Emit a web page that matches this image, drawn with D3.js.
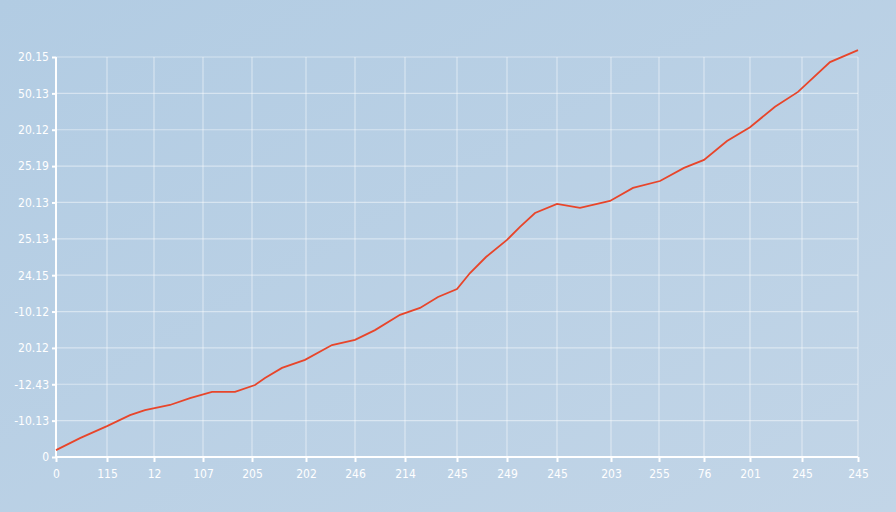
<!DOCTYPE html><html><head><meta charset="utf-8">
<script src="https://cdn.jsdelivr.net/npm/d3@7"></script>
<style>body{margin:0;overflow:hidden}</style></head><body>
<svg id="c" width="896" height="512"></svg>
<script>
const yTickLabels=["0","-10.13","-12.43","20.12","-10.12","24.15","25.13","20.13","25.19","20.12","50.13","20.15"];
const xTickLabels=["0","115","12","107","205","202","246","214","245","249","245","203","255","76","201","245","245"];
const xTickPos=[0,51,98,147,196,250,299,349,401,451,501,555,603,648,694,746,802];
const lineX=[0,24,51,74,89,114,134,156,179,199,209,226,249,276,299,319,344,364,382,401,414,430,451,464,479,501,524,554,577,604,628,648,671,694,719,742,774,802];
const lineY=[0.19,0.52,0.85,1.15,1.29,1.43,1.62,1.79,1.79,1.98,2.17,2.45,2.67,3.08,3.22,3.49,3.91,4.1,4.4,4.62,5.06,5.5,5.97,6.33,6.71,6.96,6.85,7.04,7.4,7.59,7.95,8.17,8.69,9.07,9.63,10.04,10.86,11.19];
const svg=d3.select("#c");
const defs=svg.append("defs");
const g=defs.append("linearGradient").attr("id","bg").attr("x1",0).attr("y1",0).attr("x2",1).attr("y2",1);
g.append("stop").attr("offset","0%").attr("stop-color","#b2cce3");
g.append("stop").attr("offset","100%").attr("stop-color","#c2d5e7");
svg.append("rect").attr("width",896).attr("height",512).attr("fill","url(#bg)");
const L=56,R=858,T=57,B=457;
const x=d3.scaleLinear().domain([0,802]).range([L,R]);
const y=d3.scaleLinear().domain([0,11]).range([B,T]);
const yt=d3.range(12);
svg.append("g").selectAll("line").data(yt.slice(1)).join("line")
 .attr("x1",L).attr("x2",R).attr("y1",d=>y(d)).attr("y2",d=>y(d))
 .attr("stroke","#fff").attr("stroke-opacity",0.45).attr("stroke-width",1.2);
svg.append("g").selectAll("line").data(xTickPos.slice(1)).join("line")
 .attr("x1",d=>x(d)).attr("x2",d=>x(d)).attr("y1",T).attr("y2",B)
 .attr("stroke","#fff").attr("stroke-opacity",0.45).attr("stroke-width",1.2);
const ya=svg.append("g").attr("transform",`translate(${L},0)`)
 .call(d3.axisLeft(y).tickValues(yt).tickFormat(d=>yTickLabels[d]).tickSize(4));
const xa=svg.append("g").attr("transform",`translate(0,${B})`)
 .call(d3.axisBottom(x).tickValues(xTickPos).tickFormat((d,i)=>xTickLabels[i]).tickSize(5));
[ya,xa].forEach(a=>{a.selectAll("path,line").attr("stroke","#fff").attr("stroke-width",2);
 a.selectAll("text").attr("fill","#fff").attr("font-family","DejaVu Sans Condensed, Liberation Sans Narrow, sans-serif").attr("font-size",12);});
ya.select(".domain").attr("d",`M0,${T}V${B}`);
xa.select(".domain").attr("d",`M${L},0H${R}`);
xa.selectAll("text").attr("dy","1.1em");
svg.append("path").datum(lineX.map((d,i)=>[d,lineY[i]]))
 .attr("d",d3.line().x(d=>x(d[0])).y(d=>y(d[1])))
 .attr("fill","none").attr("stroke","#e8452a").attr("stroke-width",1.8);
</script></body></html>
